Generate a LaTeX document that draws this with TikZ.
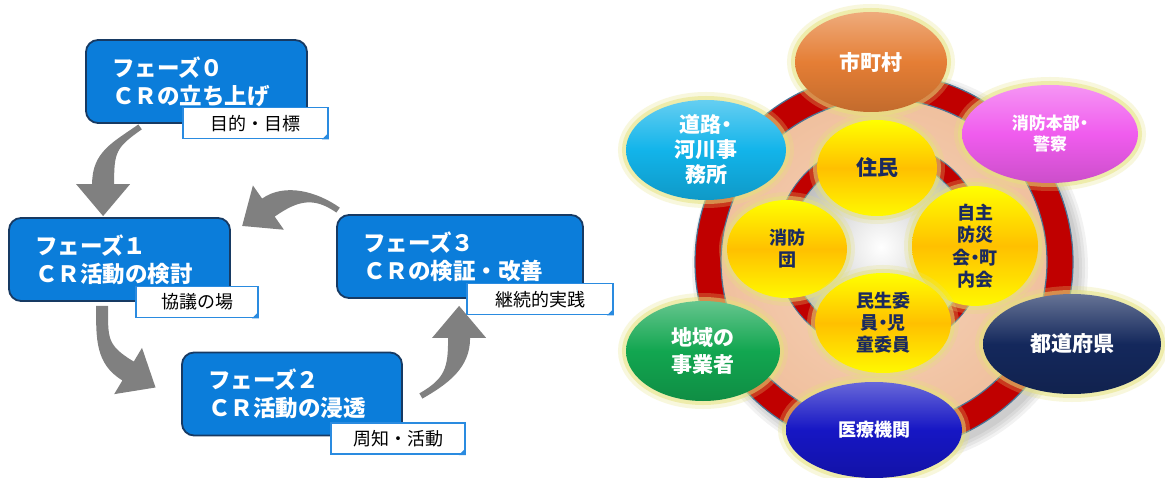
\documentclass[tikz,border=0pt]{standalone}
\usepackage{fontspec}
\setmainfont{Noto Sans CJK JP}
\newfontfamily\pfont{Noto Sans CJK JP}[RawFeature=+palt]
\usetikzlibrary{shapes.geometric,calc}

\definecolor{phaseblue}{HTML}{0B7DDA}
\definecolor{phaseline}{HTML}{173A63}
\definecolor{tagblue}{HTML}{2A8BE0}
\definecolor{arrowgray}{HTML}{808080}
\definecolor{ringred}{HTML}{C00000}
\definecolor{ringline}{HTML}{4A7596}
\definecolor{peach}{HTML}{F0C09E}
\definecolor{peachin}{HTML}{F6D4BC}
\definecolor{glowc}{HTML}{E6E27A}
\definecolor{labelnavy}{HTML}{1B2A5E}
\definecolor{orangec}{HTML}{E57E35}
\definecolor{magentac}{HTML}{F05CEE}
\definecolor{cyanc}{HTML}{12B4EA}
\definecolor{greenc}{HTML}{12A650}
\definecolor{navyc}{HTML}{14285C}
\definecolor{bluec}{HTML}{1616C4}
\definecolor{goldc}{HTML}{FFC000}

\tikzset{
  phase/.style={draw=phaseline, line width=1.8pt, fill=phaseblue, rounded corners=12pt,
    text=white, align=left, minimum height=83pt, inner xsep=26pt, inner ysep=0pt,
    font=\bfseries\fontsize{22.5}{28}\selectfont},
  tag/.style={draw=tagblue, line width=1.6pt, fill=white, minimum height=31pt,
    inner sep=0pt, font=\fontsize{18}{18}\selectfont},
  glow/.style={preaction={draw=glowc, draw opacity=.25, line width=16pt},
    preaction={draw=glowc, draw opacity=.5, line width=8pt}},
  party/.style={ellipse, glow, inner sep=0pt, text=white, align=center,
    top color=#1!65!white, bottom color=#1!85!black, middle color=#1,
    font=\pfont\bfseries\fontsize{21}{25}\selectfont},
  core/.style={ellipse, glow, inner sep=0pt, text=labelnavy, align=center,
    top color=yellow, bottom color=yellow!90!goldc, middle color=goldc,
    font=\pfont\bfseries\fontsize{18}{22}\selectfont},
}

% tapered bent arrow: tail, tail angle, head base, head angle, bend, tail half width
\newcommand{\bentarrow}[6]{%
  \fill[arrowgray]
    ($(#1)+({#2+90}:#6)$) .. controls ($(#1)+({#2+90}:#6)+(#2:#5)$) and ($(#3)+({#4+90}:11pt)+({#4+180}:#5)$) .. ($(#3)+({#4+90}:11pt)$)
    -- ($(#3)+({#4+90}:27pt)$) -- ($(#3)+(#4:32pt)$) -- ($(#3)+({#4-90}:27pt)$) -- ($(#3)+({#4-90}:11pt)$)
    .. controls ($(#3)+({#4-90}:11pt)+({#4+180}:#5)$) and ($(#1)+({#2-90}:#6)+(#2:#5)$) .. ($(#1)+({#2-90}:#6)$) -- cycle;}

\begin{document}
\begin{tikzpicture}[x=1pt,y=-1pt]
  \path[use as bounding box, fill=white] (0,0) rectangle (1165,478);

  % Phase boxes
  \node[phase, text width=169pt] (p0) at (196.5,81.5) {フェーズ０\\ＣＲの立ち上げ};
  \node[phase, text width=169pt] (p1) at (119.5,259.5) {フェーズ１\\ＣＲ活動の検討};
  \node[phase, text width=168pt] (p2) at (292,394) {フェーズ２\\ＣＲ活動の浸透};
  \node[phase, text width=194pt] (p3) at (460,256.5) {フェーズ３\\ＣＲの検証・改善};

  % Tags
  \node[tag, minimum width=145pt, anchor=north east] (t0) at ([xshift=21pt,yshift=17pt]p0.south east) {目的・目標};
  \node[tag, minimum width=122pt, anchor=north east] (t1) at ([xshift=28pt,yshift=16pt]p1.south east) {協議の場};
  \node[tag, minimum width=134pt, anchor=north east] (t2) at ([xshift=63pt,yshift=14pt]p2.south east) {周知・活動};
  \node[tag, minimum width=146pt, anchor=north east] (t3) at ([xshift=30pt,yshift=16pt]p3.south east) {継続的実践};
  \foreach \t in {t0,t1,t2,t3}
    \fill[tagblue] ([xshift=-7pt]\t.south east) -- (\t.south east) -- ([yshift=7pt]\t.south east) -- cycle;

  % Arrow ends
  \coordinate (a0s) at ([xshift=55pt,yshift=-3pt]p0.south west);
  \coordinate (a0e) at ([xshift=95pt,yshift=33pt]p1.north west);
  \coordinate (a1s) at ([xshift=94pt,yshift=-4pt]p1.south west);
  \coordinate (a1e) at ([xshift=-53pt,yshift=23pt]p2.west);
  \coordinate (a2s) at ([xshift=18pt,yshift=-2pt]p2.east);
  \coordinate (a2e) at ([xshift=123pt,yshift=-39pt]p3.south west);
  \coordinate (a3s) at ([xshift=2pt,yshift=4pt]p3.north west);
  \coordinate (a3e) at ([xshift=37.5pt,yshift=9.5pt]p1.north east);

  % Arrows
  \bentarrow{a0s}{-145}{a0e}{-90}{32pt}{3pt}
  \bentarrow{a1s}{-90}{a1e}{-31}{32pt}{6pt}
  \bentarrow{a2s}{30}{a2e}{90}{30pt}{3pt}
  \bentarrow{a3s}{145}{a3e}{215}{28pt}{3pt}

  % Rings
  \foreach \r in {189,192,195,198}
    \fill[black, opacity=.05] (890,268) circle[radius=\r];
  \shade[inner color=peachin, outer color=peach] (884,262) circle[radius=165];
  \draw[ringred, line width=26pt] (884,262) circle[radius=176];
  \draw[ringline, line width=1.2pt] (884,262) circle[radius=189] (884,262) circle[radius=163];
  \shade[inner color=white, outer color=black!25] (881,247) circle[radius=91];
  \draw[ringred, line width=15pt] (881,247) circle[radius=98];
  \draw[ringline, line width=1pt] (881,247) circle[radius=105.5] (881,247) circle[radius=90.5];

  % Inner circles
  \node[core, minimum width=120pt, minimum height=96pt, font=\pfont\bfseries\fontsize{21}{25}\selectfont] (juumin) at (877,168) {住民};
  \node[core, minimum width=120pt, minimum height=98pt] (dan) at (787,249) {消防\\団};
  \node[core, minimum width=126pt, minimum height=98pt, font=\pfont\bfseries\fontsize{18}{22.5}\selectfont] (jishu) at (975,246) {自主\\防災\\会・町\\内会};
  \node[core, minimum width=136pt, minimum height=100pt] (minsei) at (883,323) {民生委\\員・児\\童委員};

  % Outer ellipses
  \node[party=orangec, minimum width=152pt, minimum height=100pt] (shichou) at (871,62) {市町村};
  \node[party=magentac, minimum width=176pt, minimum height=98pt, font=\pfont\bfseries\fontsize{17}{21}\selectfont] (keisatsu) at (1050,134) {消防本部・\\警察};
  \node[party=cyanc, minimum width=160pt, minimum height=100pt] (douro) at (706,150) {道路・\\河川事\\務所};
  \node[party=greenc, minimum width=154pt, minimum height=100pt, font=\pfont\bfseries\fontsize{21}{27}\selectfont] (chiiki) at (703,351) {地域の\\事業者};
  \node[party=navyc, minimum width=178pt, minimum height=100pt] (todou) at (1072,344) {都道府県};
  \node[party=bluec, minimum width=176pt, minimum height=96pt, font=\pfont\bfseries\fontsize{18}{22}\selectfont] (iryou) at (874,430) {医療機関};
\end{tikzpicture}
\end{document}
